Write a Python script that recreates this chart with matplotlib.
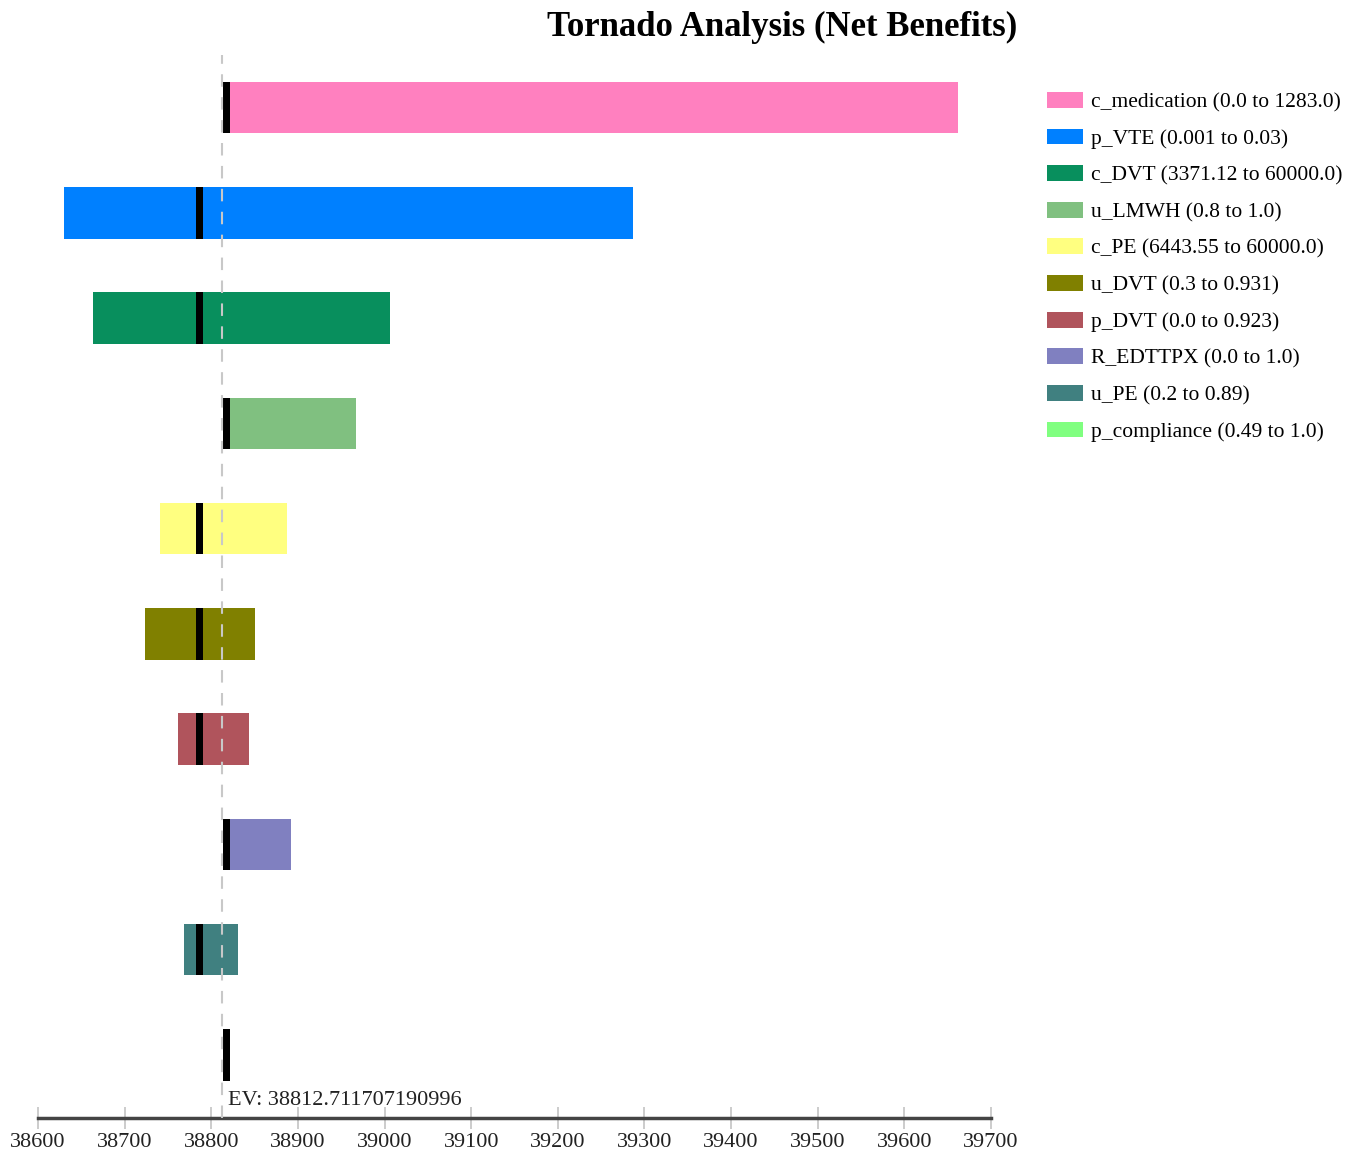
import matplotlib.pyplot as plt

plt.rcParams['font.family'] = ['Liberation Serif', 'DejaVu Serif']

# sensitivity inputs, top to bottom
params = ["c_medication", "p_VTE", "c_DVT", "u_LMWH", "c_PE",
          "u_DVT", "p_DVT", "R_EDTTPX", "u_PE", "p_compliance"]
ranges = ["(0.0 to 1283.0)", "(0.001 to 0.03)", "(3371.12 to 60000.0)",
          "(0.8 to 1.0)", "(6443.55 to 60000.0)", "(0.3 to 0.931)",
          "(0.0 to 0.923)", "(0.0 to 1.0)", "(0.2 to 0.89)", "(0.49 to 1.0)"]
lowNB = [38815, 38630, 38663, 38815, 38741, 38723, 38762, 38815, 38768, 38815]
highNB = [39662, 39287, 39006, 38967, 38887, 38850, 38843, 38892, 38831, 38820]
baseNB = [38818, 38786, 38786, 38818, 38786, 38786, 38786, 38818, 38786, 38818]
colors = ["#FF80BF", "#0080FF", "#088F5D", "#80C080", "#FFFF80",
          "#808000", "#B0545C", "#8080C0", "#408080", "#80FF80"]

ev = 38812.711707190996

fig = plt.figure(figsize=(13.63, 11.57), dpi=100)
ax = fig.add_axes([0.0279, 0.0337, 0.6992, 0.9188])

for i in range(len(params)):
    ax.barh(i, highNB[i] - lowNB[i], left=lowNB[i], height=0.49,
            color=colors[i], label=f"{params[i]} {ranges[i]}", zorder=2)
    ax.barh(i, 8, left=baseNB[i] - 4, height=0.49, color="black", zorder=3)

ax.axvline(ev, color="#c8c8c8", linestyle=(0, (6, 5)), lw=1.5, zorder=4)
ax.text(ev + 6, 9.43, f"EV: {ev}", fontsize=16, va="center", ha="left", color="#222222")

ax.set_xlim(38600, 39700)
ax.set_ylim(9.6, -0.5)
ax.set_xticks(range(38600, 39701, 100))
ax.set_yticks([])
for side in ["top", "right", "left"]:
    ax.spines[side].set_visible(False)
ax.spines["bottom"].set_color("#444444")
ax.spines["bottom"].set_linewidth(2.5)
ax.tick_params(axis="x", direction="inout", length=16, width=1.2,
               color="#c4c4c4", labelsize=16, labelcolor="#222222", pad=3)

fig.text(0.574, 0.976, "Tornado Analysis (Net Benefits)", fontsize=25,
         fontweight="bold", ha="center", va="center")

fig.legend(loc="upper left", bbox_to_anchor=(0.7615, 0.928), frameon=False,
           fontsize=15.5, handlelength=1.7, handleheight=0.75,
           labelspacing=0.755, handletextpad=0.35, borderaxespad=0)

fig.savefig("out.png", dpi=100, facecolor="white")
